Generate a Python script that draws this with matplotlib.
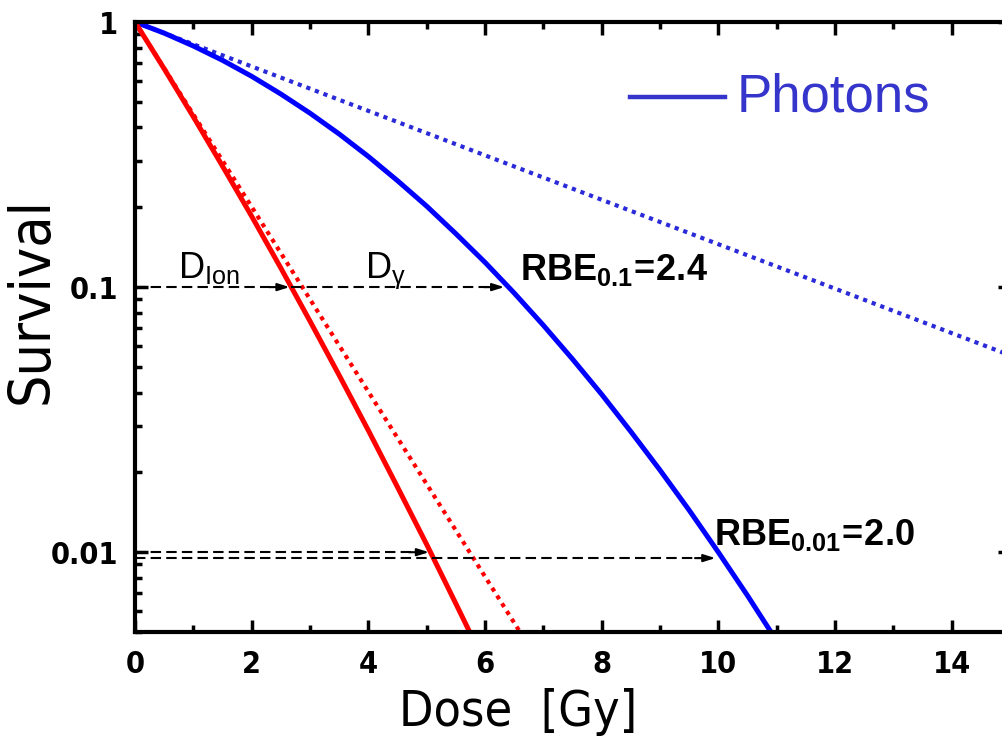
import numpy as np, matplotlib as mpl
mpl.use("Agg"); import matplotlib.pyplot as plt
from matplotlib import font_manager
from matplotlib.font_manager import FontProperties
from matplotlib.ticker import LogLocator, FixedLocator, NullFormatter

# look for a condensed face (the original uses a tall narrow font)
cond = {}
for f in font_manager.fontManager.ttflist:
    if f.stretch in ("condensed", "semi-condensed") and f.style == "normal":
        cond.setdefault((f.name, f.weight), f.fname)
def narrow(bold=False, size=20):
    for (name, w), fn in cond.items():
        if name == "DejaVu Sans" and ((w >= 600) == bold):
            return FontProperties(fname=fn, size=size)
    return FontProperties(family="Liberation Sans", weight="bold" if bold else "normal", size=size)

mpl.rcParams.update({"font.family": ["Liberation Sans", "DejaVu Sans"],
                     "mathtext.fontset": "custom",
                     "mathtext.rm": "Liberation Sans",
                     "mathtext.bf": "Liberation Sans:bold",
                     "mathtext.it": "Liberation Sans:italic"})

# ---- data ----
dose_photon = [0, 0.5, 1, 1.5, 2, 2.5, 3, 3.5, 4, 4.5, 5, 5.5, 6, 6.5, 7, 7.5, 8, 8.5, 9, 9.5, 10, 10.5, 11]
surv_photon = [1.0, 0.908, 0.812, 0.717, 0.624, 0.535, 0.453, 0.378, 0.311, 0.252, 0.202, 0.159, 0.124,
               0.0950, 0.0718, 0.0535, 0.0394, 0.0285, 0.0204, 0.0144, 0.0100, 0.00686, 0.00463]
dose_photon_init = [0, 15]
surv_photon_init = [1.0, 0.0553]

dose_ion = [0, 0.5, 1, 1.5, 2, 2.5, 3, 3.5, 4, 4.5, 5, 5.5, 6]
surv_ion = [1.0, 0.666, 0.439, 0.286, 0.185, 0.118, 0.0744, 0.0465, 0.0288, 0.0176, 0.0107, 0.0064, 0.0038]
dose_ion_init = [0, 6.6]
surv_ion_init = [1.0, 0.005]

# iso-effect arrows: start dose, end dose, survival level
arr_x0 = [0, 2.68, 0, 0]
arr_x1 = [2.65, 6.33, 5.04, 9.95]
arr_y = [0.1, 0.1, 0.01, 0.0095]

x_ticks = [0, 2, 4, 6, 8, 10, 12, 14]
y_ticks = [0.01, 0.1, 1]
y_ticklabels = ["0.01", "0.1", "1"]

BLUE, BLUE_DOT, RED, LEG = "#0000ff", "#2a2ad8", "#ff0000", "#3535cc"

fig = plt.figure(figsize=(10.03, 7.38), dpi=100)
ax = fig.add_axes([135/1003, 106/738, 875/1003, 610/738])
ax.set_yscale("log")
ax.set_xlim(0, 15); ax.set_ylim(0.005, 1)

ax.plot(dose_photon_init, surv_photon_init, color=BLUE_DOT, lw=3, ls=(0, (1, 1.2)))
ax.plot(dose_ion_init, surv_ion_init, color=RED, lw=3, ls=(0, (1, 1.2)))
ax.plot(dose_photon, surv_photon, color=BLUE, lw=3.6, solid_capstyle="butt", solid_joinstyle="round")
ax.plot(dose_ion, surv_ion, color=RED, lw=3.6, solid_capstyle="butt", solid_joinstyle="round")

for x0, x1, y in zip(arr_x0, arr_x1, arr_y):
    ax.plot([x0, x1 - 0.2], [y, y], color="k", lw=1.5, ls=(0, (5, 2.5)))
    ax.annotate("", xy=(x1, y), xytext=(x1 - 0.35, y),
                arrowprops=dict(arrowstyle="-|>,head_length=0.7,head_width=0.22",
                                color="k", lw=1.5, shrinkA=0, shrinkB=0))

# D labels
ax.text(0.74, 0.108, r"D$_{\mathrm{Ion}}$", fontsize=26, ha="left", va="baseline")
ax.text(3.95, 0.108, r"D$_{\mathrm{\gamma}}$", fontsize=26, ha="left", va="baseline")

ax.text(6.6, 0.106, r"$\mathbf{RBE_{0.1}\!=\!2.4}$", fontsize=26, ha="left", va="baseline")
ax.text(9.93, 0.0106, r"$\mathbf{RBE_{0.01}\!=\!2.0}$", fontsize=26, ha="left", va="baseline")

# legend drawn by hand
fig.lines.append(plt.Line2D([630/1003, 725/1003], [1-97/738, 1-97/738], color=LEG, lw=3.2,
                            transform=fig.transFigure))
fig.text(737/1003, 1-97/738, "Photons", color=LEG, fontsize=38, ha="left", va="center")

# axes styling
for s in ax.spines.values():
    s.set_linewidth(3)
tick_fp = narrow(True, 22)
ax.set_xticks(x_ticks)
ax.set_xticklabels([str(v) for v in x_ticks], fontproperties=tick_fp)
ax.xaxis.set_minor_locator(FixedLocator(range(1, 16, 2)))
ax.set_yticks(y_ticks)
ax.set_yticklabels(y_ticklabels, fontproperties=tick_fp)
ax.yaxis.set_minor_locator(LogLocator(subs=np.arange(2, 10)))
ax.yaxis.set_minor_formatter(NullFormatter())
ax.tick_params(which="both", direction="in", top=True, right=True, width=2.5, color="k")
ax.tick_params(which="major", length=9)
ax.tick_params(which="minor", length=5)
ax.tick_params(axis="x", pad=13)
ax.tick_params(axis="y", pad=12)

fig.text(32/1003, 1-300/738, "Survival", rotation=90, ha="center", va="center",
         fontproperties=narrow(False, 41))
fig.text(518/1003, 1-712/738, "Dose  [Gy]", ha="center", va="center",
         fontproperties=narrow(False, 36))

fig.savefig("out.png", dpi=100)
